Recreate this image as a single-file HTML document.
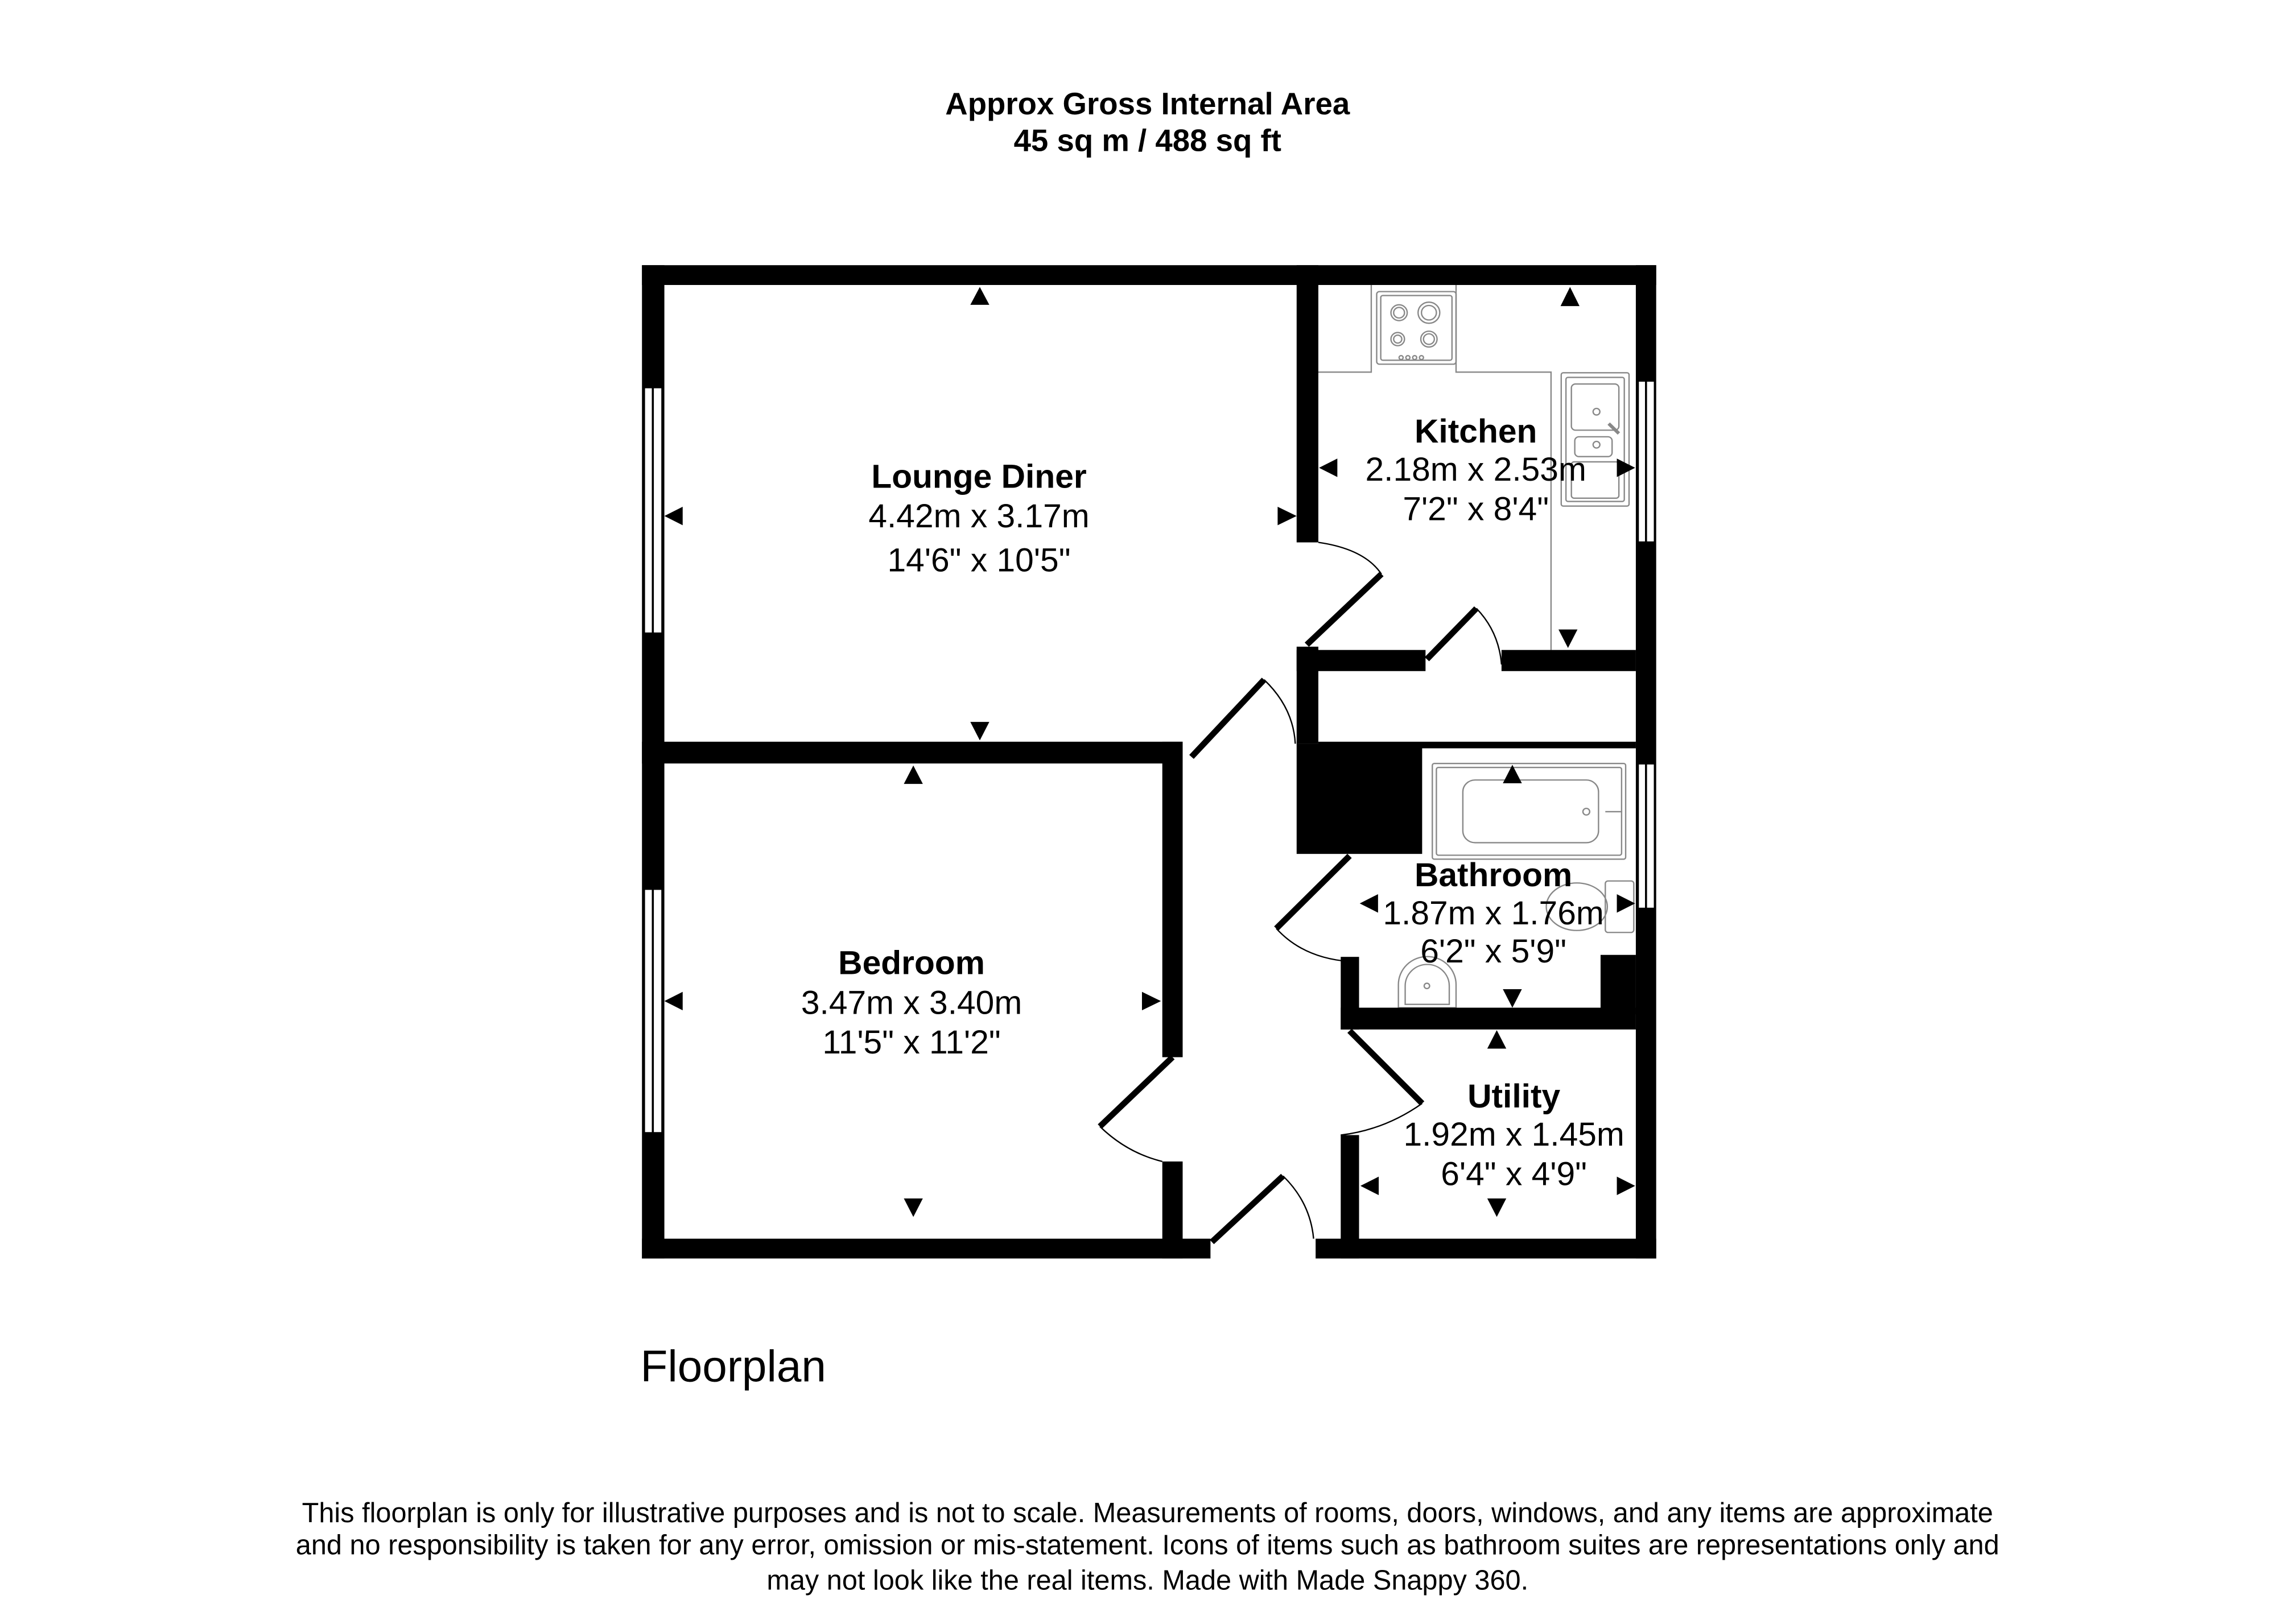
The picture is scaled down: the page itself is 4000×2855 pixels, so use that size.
<!DOCTYPE html>
<html><head><meta charset="utf-8"><style>
html,body{margin:0;padding:0;background:#fff;}
svg{display:block;}
text{font-family:"Liberation Sans",Arial,sans-serif;fill:#000;}
</style></head><body>
<svg width="4000" height="2855" viewBox="0 0 1553 1108.5" preserveAspectRatio="none" xmlns="http://www.w3.org/2000/svg">
<rect width="1553" height="1108.5" fill="#fff"/>
<text x="783" y="78" font-size="21.2" font-weight="bold" text-anchor="middle">Approx Gross Internal Area</text>
<text x="783" y="103" font-size="21.2" font-weight="bold" text-anchor="middle">45 sq m / 488 sq ft</text>

<g transform="translate(431.1,172) scale(0.4629,0.4505)">
 <g fill="none" stroke="#888" stroke-width="2">
  <polyline points="1012,182 1090,182 1090,50"/>
  <polyline points="1215,50 1215,182 1355,182 1355,603"/>
  <rect x="1098" y="60" width="117" height="110" rx="4"/>
  <rect x="1104" y="66" width="105" height="98" rx="3"/>
  <circle cx="1131" cy="92" r="12"/><circle cx="1131" cy="92" r="8"/>
  <circle cx="1175" cy="92" r="16"/><circle cx="1175" cy="92" r="11"/>
  <circle cx="1129" cy="132" r="10"/><circle cx="1129" cy="132" r="6"/>
  <circle cx="1175" cy="132" r="12"/><circle cx="1175" cy="132" r="8"/>
  <circle cx="1134" cy="160" r="3"/><circle cx="1144" cy="160" r="3"/><circle cx="1154" cy="160" r="3"/><circle cx="1164" cy="160" r="3"/>
  <rect x="1370" y="183" width="100" height="202" rx="3"/>
  <rect x="1377" y="190" width="86" height="188" rx="3"/>
  <rect x="1385" y="200" width="70" height="70" rx="6"/>
  <rect x="1390" y="280" width="55" height="30" rx="6"/>
  <rect x="1385" y="318" width="70" height="55" rx="4"/>
  <circle cx="1422" cy="242" r="5"/><circle cx="1422" cy="292" r="5"/>
  <line x1="1440" y1="260" x2="1455" y2="275" stroke-width="5"/>
  <rect x="1180" y="775" width="285" height="145" rx="3"/>
  <rect x="1186" y="781" width="273" height="133" rx="3"/>
  <rect x="1225" y="800" width="200" height="95" rx="18"/>
  <circle cx="1407" cy="848" r="5"/>
  <line x1="1435" y1="848" x2="1460" y2="848"/>
  <rect x="1435" y="953" width="42" height="78" rx="4"/>
  <ellipse cx="1393" cy="992" rx="45" ry="36"/>
  <path d="M1130,1145 L1130,1110 A42,42 0 0 1 1215,1110 L1215,1145 Z"/>
  <path d="M1140,1140 L1140,1112 A32,32 0 0 1 1205,1112 L1205,1140 Z"/>
  <circle cx="1172" cy="1112" r="4"/>
 </g>

 <g fill="#000">
  <rect x="15" y="20" width="1495" height="30"/>
  <rect x="15" y="20" width="33" height="1505"/>
  <rect x="1480" y="20" width="30" height="1505"/>
  <rect x="15" y="1495" width="838" height="30"/>
  <rect x="1008" y="1495" width="502" height="30"/>
  <rect x="980" y="20" width="32" height="420"/>
  <rect x="980" y="598" width="32" height="147"/>
  <rect x="15" y="742" width="797" height="33"/>
  <rect x="782" y="742" width="30" height="478"/>
  <rect x="782" y="1378" width="30" height="147"/>
  <rect x="980" y="603" width="190" height="32"/>
  <rect x="1282" y="603" width="198" height="32"/>
  <rect x="1012" y="742" width="468" height="10"/>
  <rect x="980" y="745" width="185" height="167"/>
  <rect x="1045" y="1068" width="27" height="110"/>
  <rect x="1045" y="1145" width="435" height="33"/>
  <rect x="1428" y="1065" width="52" height="90"/>
  <rect x="1045" y="1338" width="27" height="187"/>
 </g>
 <g fill="#fff" stroke="#000" stroke-width="3">
  <rect x="18" y="205" width="27" height="373"/>
  <line x1="31" y1="205" x2="31" y2="578"/>
  <rect x="18" y="965" width="27" height="370"/>
  <line x1="31" y1="965" x2="31" y2="1335"/>
  <rect x="1483" y="195" width="25" height="245"/>
  <line x1="1495" y1="195" x2="1495" y2="440"/>
  <rect x="1483" y="775" width="25" height="220"/>
  <line x1="1495" y1="775" x2="1495" y2="995"/>
 </g>
 <g fill="none" stroke="#000">
  <g stroke-width="9">
   <line x1="995" y1="595" x2="1105" y2="488"/>
   <line x1="825" y1="765" x2="932" y2="648"/>
   <line x1="1172" y1="617" x2="1245" y2="540"/>
   <line x1="797" y1="1220" x2="690" y2="1325"/>
   <line x1="1058" y1="915" x2="950" y2="1025"/>
   <line x1="1058" y1="1180" x2="1165" y2="1290"/>
   <line x1="855" y1="1500" x2="960" y2="1400"/>
  </g>
  <g stroke-width="2">
   <path d="M1012,440 Q1080,450 1105,488"/>
   <path d="M932,648 Q975,690 978,745"/>
   <path d="M1245,540 Q1278,575 1282,625"/>
   <path d="M690,1325 Q730,1365 782,1378"/>
   <path d="M950,1025 Q990,1070 1058,1075"/>
   <path d="M1165,1290 Q1110,1330 1045,1338"/>
   <path d="M960,1400 Q1000,1440 1005,1495"/>
  </g>
 </g>
 <g fill="#000">
  <path d="M499,80 L527,80 L513,53 Z"/>
  <path d="M499,712 L527,712 L513,740 Z"/>
  <path d="M75,386 L75,414 L48,400 Z"/>
  <path d="M952,386 L952,414 L980,400 Z"/>
  <path d="M1369,82 L1397,82 L1383,53 Z"/>
  <path d="M1366,572 L1394,572 L1380,600 Z"/>
  <path d="M1040,313 L1040,341 L1013,327 Z"/>
  <path d="M1452,313 L1452,341 L1479,327 Z"/>
  <path d="M401,806 L429,806 L415,778 Z"/>
  <path d="M401,1434 L429,1434 L415,1462 Z"/>
  <path d="M75,1121 L75,1149 L48,1135 Z"/>
  <path d="M752,1121 L752,1149 L780,1135 Z"/>
  <path d="M1284,805 L1312,805 L1298,777 Z"/>
  <path d="M1284,1117 L1312,1117 L1298,1145 Z"/>
  <path d="M1100,973 L1100,1001 L1073,987 Z"/>
  <path d="M1452,973 L1452,1001 L1479,987 Z"/>
  <path d="M1261,1207 L1289,1207 L1275,1179 Z"/>
  <path d="M1261,1434 L1289,1434 L1275,1462 Z"/>
  <path d="M1101,1401 L1101,1429 L1074,1415 Z"/>
  <path d="M1452,1401 L1452,1429 L1479,1415 Z"/>
 </g>
</g>

<g font-size="22.8" text-anchor="middle">
 <text x="668" y="333" font-weight="bold">Lounge Diner</text>
 <text x="668" y="360">4.42m x 3.17m</text>
 <text x="668" y="390">14'6" x 10'5"</text>
 <text x="1007" y="302" font-weight="bold">Kitchen</text>
 <text x="1007" y="328">2.18m x 2.53m</text>
 <text x="1007" y="355">7'2" x 8'4"</text>
 <text x="622" y="665" font-weight="bold">Bedroom</text>
 <text x="622" y="692">3.47m x 3.40m</text>
 <text x="622" y="719">11'5" x 11'2"</text>
 <text x="1019" y="605" font-weight="bold">Bathroom</text>
 <text x="1019" y="631">1.87m x 1.76m</text>
 <text x="1019" y="657">6'2" x 5'9"</text>
 <text x="1033" y="756" font-weight="bold">Utility</text>
 <text x="1033" y="782">1.92m x 1.45m</text>
 <text x="1033" y="809">6'4" x 4'9"</text>
</g>
<text x="437" y="943" font-size="30.4">Floorplan</text>
<g font-size="18.9" text-anchor="middle">
 <text x="783" y="1039">This floorplan is only for illustrative purposes and is not to scale. Measurements of rooms, doors, windows, and any items are approximate</text>
 <text x="783" y="1061">and no responsibility is taken for any error, omission or mis-statement. Icons of items such as bathroom suites are representations only and</text>
 <text x="783" y="1085">may not look like the real items. Made with Made Snappy 360.</text>
</g>
</svg>
</body></html>
